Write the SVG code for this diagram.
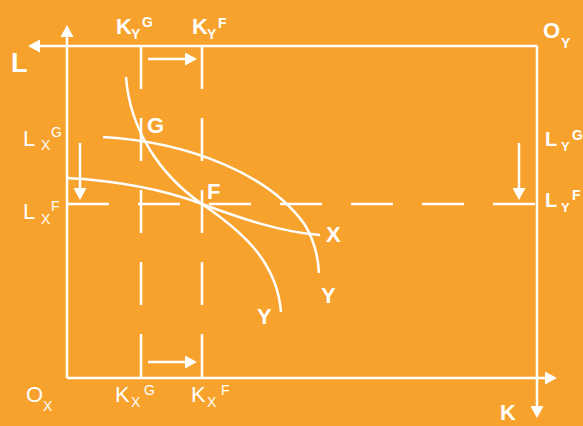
<svg xmlns="http://www.w3.org/2000/svg" width="583" height="426" viewBox="0 0 583 426">
<style>
.ln{stroke:#fff;stroke-width:2.5;fill:none}
.ds{stroke:#fff;stroke-width:2.5;fill:none}
.cv{stroke:#fff;stroke-width:2.5;fill:none}
.b{font-family:"Liberation Sans",Arial,sans-serif;font-weight:bold;fill:#fff}
.n{font-family:"Liberation Sans",Arial,sans-serif;fill:#fff}
.m{font-size:22px}
.s{font-size:14px}
</style>
<defs>
<marker id="ah" markerUnits="userSpaceOnUse" markerWidth="12" markerHeight="13" viewBox="0 0 12 13" refX="4" refY="6.5" orient="auto">
<path d="M0,0 L12,6.5 L0,13 z" fill="#fff"/>
</marker>
</defs>
<rect width="583" height="426" fill="#F8A22E"/>
<g id="connectors">
<line class="ln" x1="67" y1="378" x2="67" y2="33" marker-end="url(#ah)"/>
<line class="ln" x1="537" y1="46" x2="36" y2="46" marker-end="url(#ah)"/>
<line class="ln" x1="537" y1="46" x2="537" y2="410" marker-end="url(#ah)"/>
<line class="ln" x1="67" y1="378" x2="549" y2="378" marker-end="url(#ah)"/>
<line class="ln" x1="148" y1="59" x2="189" y2="59" marker-end="url(#ah)"/>
<line class="ln" x1="148" y1="362" x2="189" y2="362" marker-end="url(#ah)"/>
<line class="ln" x1="80" y1="143" x2="80" y2="192" marker-end="url(#ah)"/>
<line class="ln" x1="519" y1="143" x2="519" y2="192" marker-end="url(#ah)"/>
<line class="ds" x1="141" y1="46" x2="141" y2="378" stroke-dasharray="43 29"/>
<line class="ds" x1="202" y1="46" x2="202" y2="378" stroke-dasharray="43 29"/>
<line class="ds" x1="67" y1="204" x2="537" y2="204" stroke-dasharray="42 29"/>
</g>
<g id="curves">
<path class="cv" d="M126,77 C130,130 160,175 202,204 C243,232 277,262 281,312"/>
<path class="cv" d="M103,137 C190,142 270,175 305,225 C314,240 318,255 319,273"/>
<path class="cv" d="M67,178 C120,181 165,190 202,204 C240,218 280,232 320,235"/>
</g>
<g id="labels-top">
<text class="b" x="11" y="72" font-size="27">L</text>
<text class="b m" x="116" y="34">K</text><text class="b s" x="131" y="39">Y</text><text class="b s" x="142" y="27">G</text>
<text class="b m" x="192" y="34">K</text><text class="b s" x="207" y="39">Y</text><text class="b s" x="218" y="28">F</text>
<text class="b m" x="543" y="38">O</text><text class="b s" x="561" y="48">Y</text>
</g>
<g id="labels-left">
<text class="n m" x="23" y="146">L</text><text class="n s" x="41" y="150">X</text><text class="n s" x="51" y="137">G</text>
<text class="n m" x="23" y="219">L</text><text class="n s" x="41" y="224">X</text><text class="n s" x="51" y="211">F</text>
</g>
<g id="labels-right">
<text class="b" x="545" y="146" font-size="20">L</text><text class="b" x="561" y="151" font-size="13">Y</text><text class="b" x="572" y="140" font-size="14">G</text>
<text class="b" x="545" y="207" font-size="20">L</text><text class="b" x="561" y="212" font-size="13">Y</text><text class="b" x="572" y="200" font-size="14">F</text>
</g>
<g id="labels-bottom">
<text class="n m" x="26" y="402">O</text><text class="n s" x="43" y="411">X</text>
<text class="n m" x="115" y="402">K</text><text class="n s" x="131" y="407">X</text><text class="n s" x="144" y="395">G</text>
<text class="n m" x="191" y="402">K</text><text class="n s" x="207" y="407">X</text><text class="n s" x="221" y="395">F</text>
<text class="b m" x="500" y="420">K</text>
</g>
<g id="points">
<text class="b m" x="147" y="133">G</text>
<text class="b m" x="207" y="199">F</text>
<text class="b m" x="326" y="242">X</text>
<text class="b m" x="321" y="303">Y</text>
<text class="b m" x="257" y="324">Y</text>
</g>
</svg>
